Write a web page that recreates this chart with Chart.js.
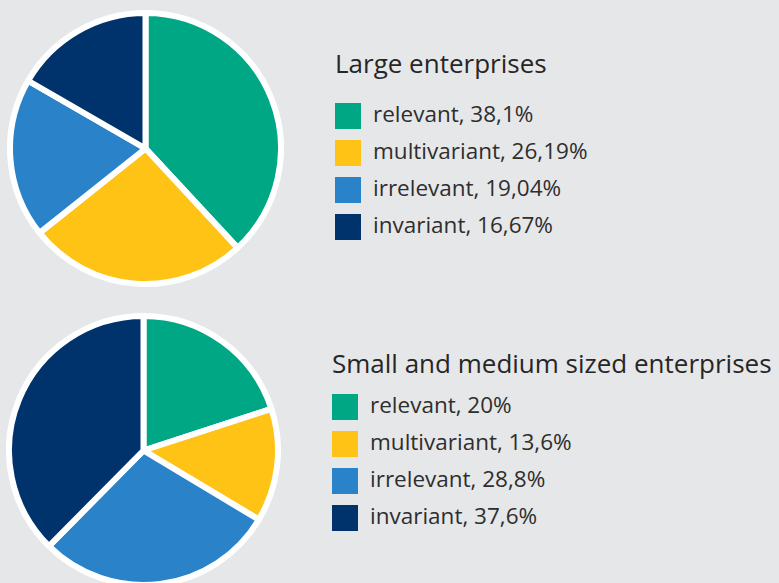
<!DOCTYPE html>
<html>
<head>
<meta charset="utf-8">
<script src="https://cdn.jsdelivr.net/npm/chart.js@4/dist/chart.umd.min.js"></script>
<style>
  html, body {
    margin: 0;
    padding: 0;
    width: 779px;
    height: 583px;
    overflow: hidden;
    background: #e6e7e9;
    font-family: 'Open Sans', sans-serif;
  }
  .pie, .title, .items {
    position: absolute;
  }
  .title {
    margin: 0;
    font-weight: normal;
    font-size: 26px;
    line-height: 26px;
    color: #262626;
    white-space: nowrap;
  }
  .items {
    list-style: none;
    margin: 0;
    padding: 0;
    color: #2e2e2e;
  }
  .items li {
    height: 37px;
    display: flex;
    align-items: center;
    font-size: 22.5px;
    white-space: nowrap;
  }
  .items li span {
    display: inline-block;
    width: 26px;
    height: 26px;
    margin-right: 12px;
  }
  .items li em {
    font-style: normal;
    position: relative;
    top: -2.5px;
  }
</style>
</head>
<body>
<canvas id="pieLarge" class="pie" width="277" height="277" style="left:7px;top:10px"></canvas>
<canvas id="pieSmall" class="pie" width="275" height="275" style="left:6px;top:313px"></canvas>

<h2 class="title" style="left:335px;top:50px">Large enterprises</h2>
<ul id="legendLarge" class="items" style="left:335px;top:97px"></ul>

<h2 class="title" style="left:332px;top:350px">Small and medium sized enterprises</h2>
<ul id="legendSmall" class="items" style="left:332px;top:388.5px"></ul>

<script>
// shared categories and colours
const categories = ['relevant', 'multivariant', 'irrelevant', 'invariant'];
const colors = ['#00a784', '#fec314', '#2a83c8', '#00336b'];

// shares in percent
const largeValues = [38.1, 26.19, 19.04, 16.67];
const smallValues = [20, 13.6, 28.8, 37.6];

// legend with decimal comma
function buildLegend(id, values) {
  const list = document.getElementById(id);
  categories.forEach((cat, i) => {
    const li = document.createElement('li');
    li.innerHTML = `<span style="background:${colors[i]}"></span><em>${cat}, ${String(values[i]).replace('.', ',')}%</em>`;
    list.appendChild(li);
  });
}

function drawPie(canvasId, values) {
  return new Chart(document.getElementById(canvasId), {
    type: 'pie',
    data: {
      labels: categories,
      datasets: [
        {
          data: values,
          backgroundColor: colors,
          borderColor: '#ffffff',
          borderWidth: 6,
        },
      ],
    },
    options: {
      responsive: false,
      animation: false,
      layout: { padding: 0 },
      plugins: {
        legend: { display: false },
        tooltip: { enabled: false },
      },
    },
  });
}

buildLegend('legendLarge', largeValues);
buildLegend('legendSmall', smallValues);
drawPie('pieLarge', largeValues);
drawPie('pieSmall', smallValues);
</script>
</body>
</html>
